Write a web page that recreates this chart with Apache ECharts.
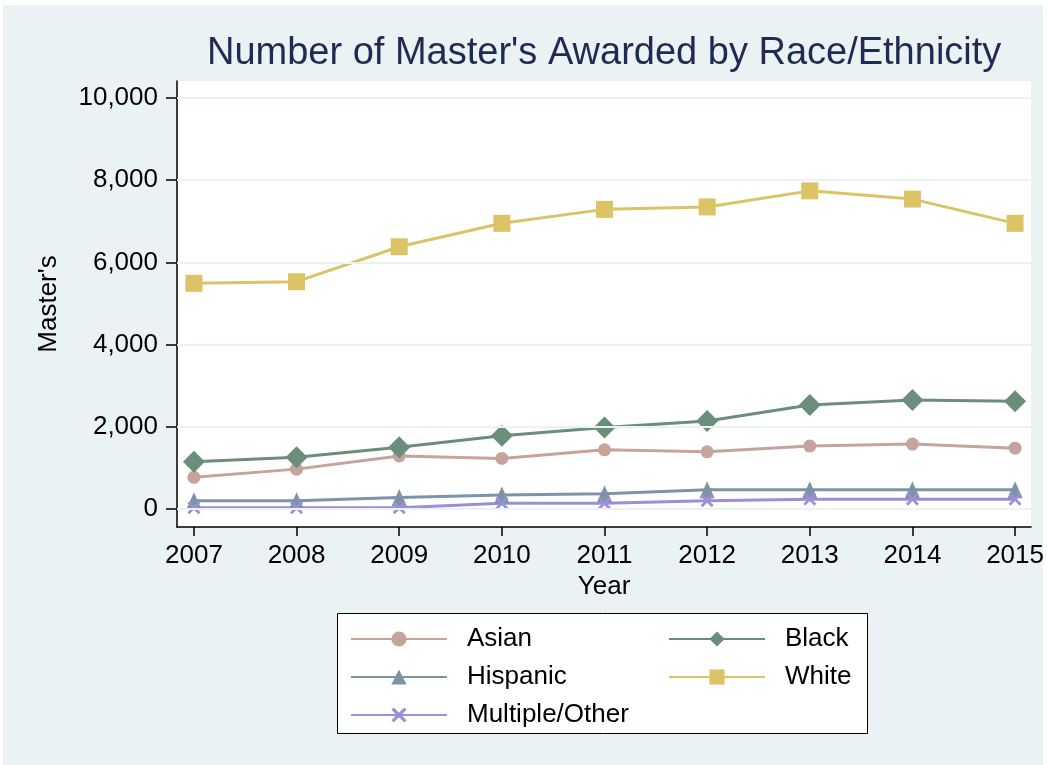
<!DOCTYPE html>
<html>
<head>
<meta charset="utf-8">
<script src="https://cdn.jsdelivr.net/npm/echarts@6/dist/echarts.min.js"></script>
<style>
  html, body { margin: 0; padding: 0; background: #fff; }
  #chart { width: 1047px; height: 765px; }
</style>
</head>
<body>
<div id="chart"></div>
<script>
// Master's degrees awarded per year, by race/ethnicity
const years = [2007, 2008, 2009, 2010, 2011, 2012, 2013, 2014, 2015];
const asian    = [770, 970, 1290, 1230, 1440, 1390, 1530, 1580, 1480];
const black    = [1150, 1260, 1500, 1780, 1980, 2140, 2530, 2650, 2620];
const hispanic = [200, 200, 280, 340, 370, 470, 470, 470, 470];
const white    = [5490, 5530, 6380, 6950, 7290, 7350, 7740, 7540, 6950];
const multiple = [30, 30, 30, 140, 140, 200, 240, 240, 240];
const yTicks = [0, 2000, 4000, 6000, 8000, 10000];

const FONT = 'Liberation Sans, Arial, sans-serif';
const BG = '#EAF2F3';

// "x" marker as a filled cross outline
const crossPath = 'path://M1.5,0 L5,3.5 L8.5,0 L10,1.5 L6.5,5 L10,8.5 L8.5,10 L5,6.5 L1.5,10 L0,8.5 L3.5,5 L0,1.5 Z';

function pairs(vals) { return years.map((y, i) => [y, vals[i]]); }

function lineSeries(name, vals, color, symbol, size) {
  return {
    name: name,
    type: 'line',
    data: pairs(vals),
    z: 3,
    symbol: symbol,
    symbolSize: size,
    showAllSymbol: true,
    lineStyle: { color: color, width: 3 },
    itemStyle: { color: color, borderWidth: 0 },
    emphasis: { disabled: true },
    animation: false
  };
}

const chart = echarts.init(document.getElementById('chart'), null, { renderer: 'canvas' });

const option = {
  backgroundColor: BG,
  animation: false,
  textStyle: { fontFamily: FONT },
  title: {
    text: "Number of Master's Awarded by Race/Ethnicity",
    left: 207,
    top: 35,
    padding: 0,
    textStyle: { fontFamily: FONT, fontSize: 38, fontWeight: 'normal', color: '#1E2B52' }
  },
  graphic: [
    { type: 'rect', shape: { x: 0, y: 0, width: 1047, height: 5 }, style: { fill: '#fff' }, silent: true },
    { type: 'rect', shape: { x: 0, y: 0, width: 3, height: 765 }, style: { fill: '#fff' }, silent: true },
    { type: 'rect', shape: { x: 1043, y: 0, width: 4, height: 765 }, style: { fill: '#fff' }, silent: true },
    { type: 'rect', z: 1, shape: { x: 337.5, y: 613.5, width: 530, height: 120 },
      style: { fill: '#fff', stroke: '#000', lineWidth: 1 }, silent: true }
  ],
  grid: {
    left: 177, right: 15, top: 81, bottom: 238,
    show: true, backgroundColor: '#fff', borderWidth: 0,
    containLabel: false
  },
  xAxis: {
    type: 'value',
    min: 2006.835, max: 2015.156,
    name: 'Year',
    nameLocation: 'middle',
    nameGap: 41,
    nameTextStyle: { fontFamily: FONT, fontSize: 26, color: '#000' },
    axisLine: { show: true, onZero: false, lineStyle: { color: '#000', width: 1.5 } },
    axisTick: { show: true, length: 9, customValues: years, lineStyle: { color: '#000', width: 1.5 } },
    axisLabel: { customValues: years, margin: 16, fontFamily: FONT, fontSize: 26, color: '#000',
                 formatter: v => String(v) },
    splitLine: { show: false }
  },
  yAxis: {
    type: 'value',
    min: -438, max: 10413,
    name: "Master's",
    nameLocation: 'middle',
    nameGap: 115,
    nameTextStyle: { fontFamily: FONT, fontSize: 26, color: '#000' },
    axisLine: { show: true, onZero: false, lineStyle: { color: '#000', width: 1.5 } },
    axisTick: { show: true, length: 11, customValues: yTicks, lineStyle: { color: '#000', width: 1.5 } },
    axisLabel: { customValues: yTicks, margin: 19, fontFamily: FONT, fontSize: 26, color: '#000',
                 formatter: v => Number(v).toLocaleString('en-US') },
    splitLine: { show: false }
  },
  legend: [
    {
      data: ['Asian', 'Hispanic', 'Multiple/Other'],
      orient: 'vertical', left: 350, top: 626, padding: 0, z: 5,
      itemWidth: 96, itemHeight: 19, itemGap: 12,
      selectedMode: false,
      textStyle: { fontFamily: FONT, fontSize: 26, color: '#000', padding: [0, 0, 0, 15] }
    },
    {
      data: ['Black', 'White'],
      orient: 'vertical', left: 668, top: 626, padding: 0, z: 5,
      itemWidth: 96, itemHeight: 19, itemGap: 12,
      selectedMode: false,
      textStyle: { fontFamily: FONT, fontSize: 26, color: '#000', padding: [0, 0, 0, 15] }
    }
  ],
  series: [
    {
      name: 'gridlines',
      type: 'line',
      data: [],
      z: 1,
      silent: true,
      markLine: {
        silent: true,
        symbol: 'none',
        label: { show: false },
        lineStyle: { color: BG, width: 2, type: 'solid' },
        emphasis: { disabled: true },
        data: yTicks.map(v => ({ yAxis: v }))
      }
    },
    lineSeries('Asian', asian, '#C6A39B', 'circle', 13),
    lineSeries('Black', black, '#6B8E7B', 'diamond', 22),
    lineSeries('Hispanic', hispanic, '#7C93A8', 'triangle', [15, 17]),
    lineSeries('White', white, '#DCC466', 'rect', 17),
    lineSeries('Multiple/Other', multiple, '#9B90D8', crossPath, 13)
  ]
};

chart.setOption(option);
</script>
</body>
</html>
